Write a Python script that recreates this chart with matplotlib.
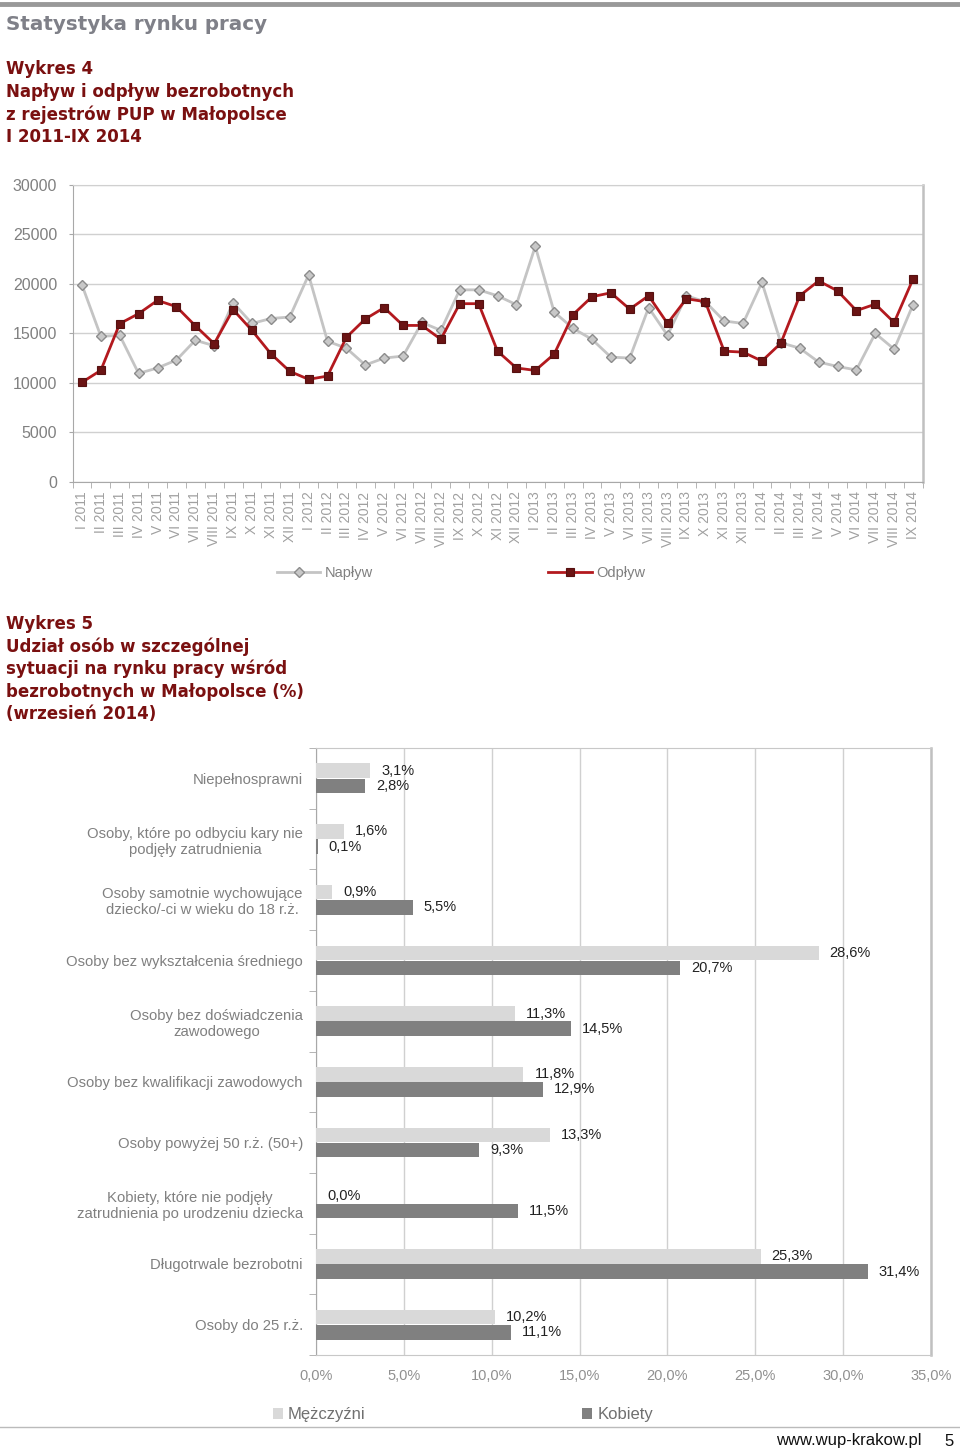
import numpy as np
import matplotlib
matplotlib.use('Agg')
import matplotlib.pyplot as plt
from matplotlib.lines import Line2D

W, H = 960, 1454

# ---- Wykres 4: napływ / odpływ ----
months = ['I', 'II', 'III', 'IV', 'V', 'VI', 'VII', 'VIII', 'IX', 'X', 'XI', 'XII']
years = [2011, 2012, 2013, 2014]
periods = [f'{m} {y}' for y in years for m in months][:45]

naplyw = [19900, 14700, 14800, 10950, 11500, 12300, 14300, 13750, 18100, 16000, 16500, 16650,
          20900, 14200, 13500, 11800, 12500, 12700, 16100, 15300, 19400, 19400, 18800, 17900,
          23800, 17150, 15500, 14400, 12600, 12500, 17600, 14800, 18800, 18200, 16250, 16000,
          20150, 14050, 13500, 12100, 11650, 11300, 15000, 13400, 17900]
odplyw = [10050, 11260, 15980, 16990, 18330, 17700, 15770, 13950, 17400, 15300, 12940, 11160,
          10350, 10680, 14600, 16450, 17600, 15800, 15800, 14400, 18000, 18000, 13200, 11500,
          11250, 12900, 16900, 18700, 19100, 17450, 18800, 16000, 18500, 18200, 13200, 13100,
          12200, 14000, 18800, 20300, 19300, 17300, 17950, 16100, 20500]

# ---- Wykres 5: udział grup (%) ----
categories = ['Niepełnosprawni',
              'Osoby, które po odbyciu kary nie\npodjęły zatrudnienia',
              'Osoby samotnie wychowujące\ndziecko/-ci w wieku do 18 r.ż.',
              'Osoby bez wykształcenia średniego',
              'Osoby bez doświadczenia\nzawodowego',
              'Osoby bez kwalifikacji zawodowych',
              'Osoby powyżej 50 r.ż. (50+)',
              'Kobiety, które nie podjęły\nzatrudnienia po urodzeniu dziecka',
              'Długotrwale bezrobotni',
              'Osoby do 25 r.ż.']
mezczyzni = [3.1, 1.6, 0.9, 28.6, 11.3, 11.8, 13.3, 0.0, 25.3, 10.2]
kobiety = [2.8, 0.1, 5.5, 20.7, 14.5, 12.9, 9.3, 11.5, 31.4, 11.1]

CHART_FONT = 'Liberation Sans'
HEAD_FONT = 'DejaVu Sans'


def rect(l, t, r, b):
    return [l / W, 1 - b / H, (r - l) / W, (b - t) / H]


def fy(y):
    return 1 - y / H


fig = plt.figure(figsize=(W / 100, H / 100), dpi=100)

# górna belka i nagłówki
fig.add_artist(Line2D([0, 1], [fy(4), fy(4)], color='#999999', lw=3.5))
fig.text(6 / W, fy(25), 'Statystyka rynku pracy', fontsize=14.3, weight='bold',
         color='#7F8088', family=HEAD_FONT, va='center')

head4 = ['Wykres 4', 'Napływ i odpływ bezrobotnych', 'z rejestrów PUP w Małopolsce', 'I 2011-IX 2014']
for i, line in enumerate(head4):
    fig.text(6 / W, fy(69 + i * 22.7), line, fontsize=12, weight='bold',
             color='#7A1010', family=HEAD_FONT, va='center')

head5 = ['Wykres 5', 'Udział osób w szczególnej', 'sytuacji na rynku pracy wśród',
         'bezrobotnych w Małopolsce (%)', '(wrzesień 2014)']
for i, line in enumerate(head5):
    fig.text(6 / W, fy(624 + i * 22.6), line, fontsize=12, weight='bold',
             color='#7A1010', family=HEAD_FONT, va='center')

# ============================================================
# Wykres 4 - linie
# ============================================================
ax1 = fig.add_axes(rect(72.5, 185, 922.5, 481.7))
x = np.arange(len(periods))
ax1.plot(x, naplyw, color='#C4C4C4', lw=2, marker='D', ms=5.5, mfc='#C8C8C8',
         mec='#8C8C8C', mew=1, label='Napływ', zorder=3)
ax1.plot(x, odplyw, color='#B3191E', lw=2, marker='s', ms=6, mfc='#6B1414',
         mec='#561010', mew=0.8, label='Odpływ', zorder=4)

ax1.set_xlim(-0.5, len(periods) - 0.5)
ax1.set_ylim(0, 30000)
ax1.set_yticks(range(0, 30001, 5000))
ax1.yaxis.grid(True, color='#D0D0D0', lw=1)
ax1.set_axisbelow(True)
for s in ['left', 'bottom']:
    ax1.spines[s].set_color('#A8A8A8')
ax1.spines['top'].set_color('#D0D0D0')
ax1.spines['right'].set_color('#C0C0C0')
ax1.spines['right'].set_linewidth(1.8)

ax1.set_xticks(x)
ax1.set_xticklabels(periods, rotation=90, fontsize=10, color='#A0A0A0', family=CHART_FONT)
ax1.set_xticks(np.arange(-0.5, len(periods), 1), minor=True)
ax1.tick_params(axis='x', which='major', length=0, pad=7)
ax1.tick_params(axis='x', which='minor', length=4, color='#A8A8A8')
ax1.tick_params(axis='y', length=3, color='#A8A8A8', pad=8, labelsize=11.5, labelcolor='#808080')
for t in ax1.get_yticklabels():
    t.set_family(CHART_FONT)

h1, l1 = ax1.get_legend_handles_labels()
fig.legend(h1, l1, loc='center', bbox_to_anchor=(461 / W, fy(573)), ncol=2, frameon=False,
           prop={'family': CHART_FONT, 'size': 10.5}, labelcolor='#808080',
           handlelength=3.0, columnspacing=12, handletextpad=0.3)

# ============================================================
# Wykres 5 - słupki
# ============================================================
ax2 = fig.add_axes(rect(316, 748, 931, 1355))
y = np.arange(len(categories))
bh = 0.24
b1 = ax2.barh(y - 0.125, mezczyzni, height=bh, color='#D9D9D9', label='Mężczyźni', zorder=3)
b2 = ax2.barh(y + 0.125, kobiety, height=bh, color='#808080', label='Kobiety', zorder=3)

for yy, v in zip(y - 0.125, mezczyzni):
    ax2.annotate(f'{v:.1f}%'.replace('.', ','), xy=(v, yy), xytext=(8, 0),
                 textcoords='offset points', va='center', fontsize=10.5,
                 color='#222222', family=CHART_FONT)
for yy, v in zip(y + 0.125, kobiety):
    ax2.annotate(f'{v:.1f}%'.replace('.', ','), xy=(v, yy), xytext=(8, 0),
                 textcoords='offset points', va='center', fontsize=10.5,
                 color='#222222', family=CHART_FONT)

ax2.set_xlim(0, 35)
ax2.set_ylim(len(categories) - 0.5, -0.5)
ax2.set_xticks(range(0, 36, 5))
ax2.set_xticklabels([f'{v:.1f}%'.replace('.', ',') for v in range(0, 36, 5)],
                    fontsize=10.5, color='#909090', family=CHART_FONT)
ax2.tick_params(axis='x', length=0, pad=10)
ax2.xaxis.grid(True, color='#D0D0D0', lw=1)
ax2.set_axisbelow(True)

ax2.set_yticks(y)
ax2.set_yticklabels(categories, fontsize=10.7, color='#808080', family=CHART_FONT,
                    multialignment='center')
ax2.set_yticks(np.arange(-0.5, len(categories), 1), minor=True)
ax2.tick_params(axis='y', which='major', length=0, pad=9.5)
ax2.tick_params(axis='y', which='minor', length=5, color='#A8A8A8')
ax2.spines['left'].set_color('#A8A8A8')
ax2.spines['bottom'].set_color('#C8C8C8')
ax2.spines['top'].set_color('#C8C8C8')
ax2.spines['right'].set_color('#C0C0C0')
ax2.spines['right'].set_linewidth(1.8)

fig.legend([b1, b2], ['Mężczyźni', 'Kobiety'], loc='center', bbox_to_anchor=(463 / W, fy(1415)),
           ncol=2, frameon=False, prop={'family': CHART_FONT, 'size': 12}, labelcolor='#707070',
           handlelength=0.6, handleheight=0.6, handletextpad=0.3, columnspacing=13)

# stopka
fig.add_artist(Line2D([0, 1], [fy(1427), fy(1427)], color='#BBBBBB', lw=1))
fig.text(776 / W, fy(1441), 'www.wup-krakow.pl', fontsize=12, color='#111111',
         family=CHART_FONT, va='center')
fig.text(944 / W, fy(1441), '5', fontsize=12, color='#111111', family=CHART_FONT, va='center')

plt.savefig('out.png', dpi=100)
plt.close()
